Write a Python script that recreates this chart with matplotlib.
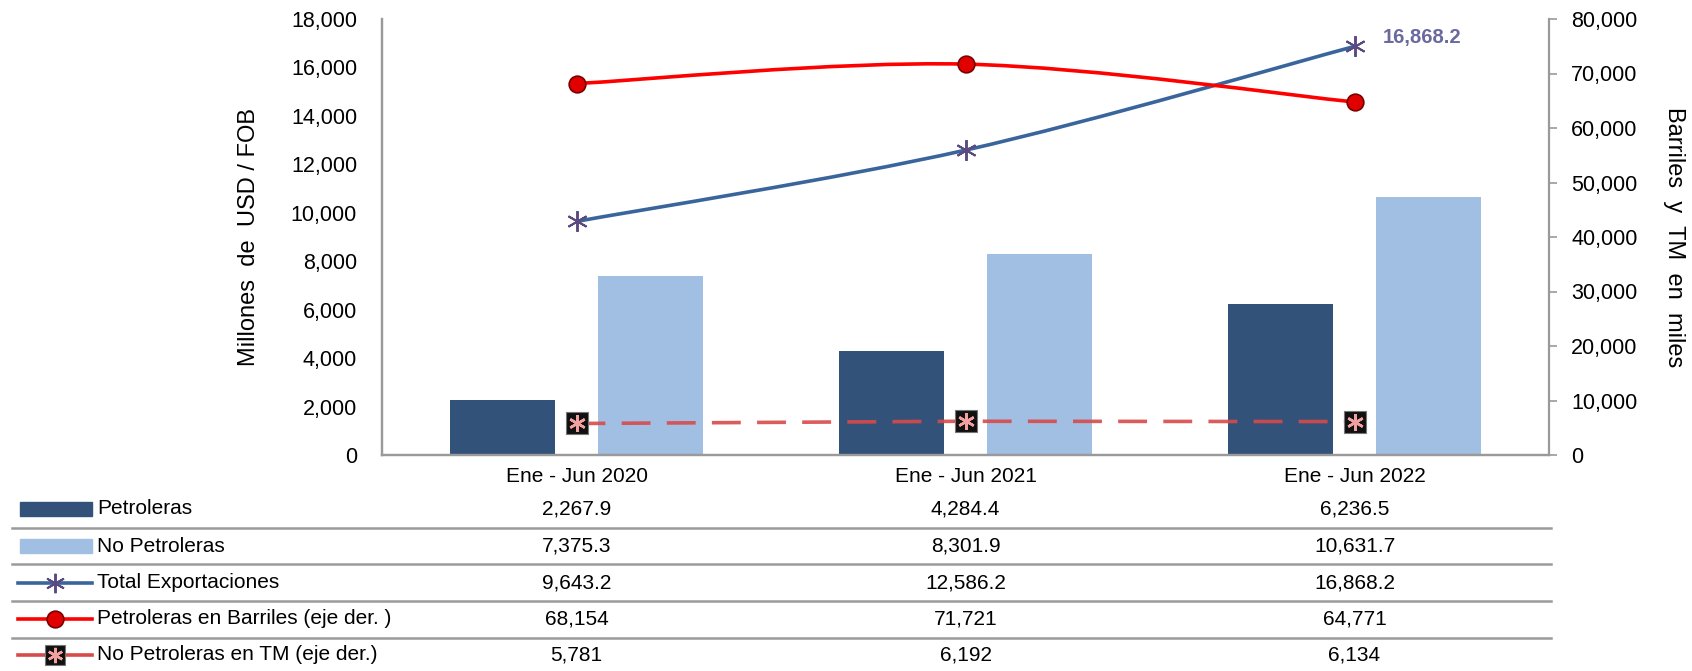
import matplotlib
matplotlib.use("Agg")
import matplotlib.pyplot as plt
import numpy as np
from matplotlib.path import Path
from matplotlib.patches import PathPatch, Rectangle
from matplotlib.lines import Line2D
from matplotlib import transforms

plt.rcParams['font.family'] = ['Liberation Sans Narrow', 'Liberation Sans', 'DejaVu Sans']

# data
categories = ["Ene - Jun 2020", "Ene - Jun 2021", "Ene - Jun 2022"]
petroleras = [2267.9, 4284.4, 6236.5]
no_petroleras = [7375.3, 8301.9, 10631.7]
total_export = [9643.2, 12586.2, 16868.2]
petro_barriles = [68154, 71721, 64771]
no_petro_tm = [5781, 6192, 6134]

row_labels = ["Petroleras", "No Petroleras", "Total Exportaciones",
              "Petroleras en Barriles (eje der. )", "No Petroleras en TM (eje der.)"]
row_values = [
    ["{:,.1f}".format(v) for v in petroleras],
    ["{:,.1f}".format(v) for v in no_petroleras],
    ["{:,.1f}".format(v) for v in total_export],
    ["{:,.0f}".format(v) for v in petro_barriles],
    ["{:,.0f}".format(v) for v in no_petro_tm],
]

c_dark = "#32527a"
c_light = "#a1bfe3"
c_blue = "#3a659c"
c_star = "#5b4a80"
c_red = "#ff0000"
c_tm = "#d84a4a"
c_grid = "#9a9a9a"
FS = 15

W, H = 1692, 671
fig = plt.figure(figsize=(W / 100, H / 100), dpi=100)

ax = fig.add_axes([382 / W, 1 - 455 / H, (1549 - 382) / W, (455 - 19) / H])
ax2 = ax.twinx()


def smooth_path(xs, ys):
    # catmull-rom style smoothing like a spreadsheet "smoothed line"
    pts = np.column_stack([xs, ys]).astype(float)
    n = len(pts)
    verts = [pts[0]]
    codes = [Path.MOVETO]
    for i in range(n - 1):
        p0 = pts[i - 1] if i > 0 else pts[i]
        p1 = pts[i]
        p2 = pts[i + 1]
        p3 = pts[i + 2] if i + 2 < n else pts[i + 1]
        verts += [p1 + (p2 - p0) / 6, p2 - (p3 - p1) / 6, p2]
        codes += [Path.CURVE4] * 3
    return Path(verts, codes)


x = np.arange(len(categories))
bw = 0.27
ax.bar(x - 0.19, petroleras, bw, color=c_dark, zorder=2)
ax.bar(x + 0.19, no_petroleras, bw, color=c_light, zorder=2)

ax.add_patch(PathPatch(smooth_path(x, total_export), fill=False, ec=c_blue, lw=2.6, zorder=4))
ax.plot(x, total_export, ls="none", marker=(6, 2, 0), ms=15, mew=1.4, color=c_star, zorder=5)
ax.annotate("{:,.1f}".format(total_export[-1]), (x[-1], total_export[-1]),
            xytext=(28, 9), textcoords="offset pixels", fontsize=14.5, fontweight="bold",
            color="#6a6a9e", ha="left", va="center")

ax2.add_patch(PathPatch(smooth_path(x, petro_barriles), fill=False, ec=c_red, lw=2.6, zorder=4))
ax2.plot(x, petro_barriles, ls="none", marker="o", ms=12, mfc="#e00000", mec="#7a0000", mew=1.2, zorder=5)

ax2.plot(x, no_petro_tm, color=c_tm, lw=2.6, dashes=(8, 4.5), alpha=0.9, zorder=3)
ax2.plot(x, no_petro_tm, ls="none", marker="s", ms=16, mfc="#111111", mec="#777777", mew=0.8, zorder=5)
ax2.plot(x, no_petro_tm, ls="none", marker=(6, 2, 0), ms=12, mew=1.8, color="#f2a0a0", zorder=6)

ax.set_xlim(-0.5, 2.5)
ax.set_ylim(0, 18000)
ax2.set_ylim(0, 80000)
ax.set_yticks(np.arange(0, 18001, 2000))
ax2.set_yticks(np.arange(0, 80001, 10000))
ax.set_xticks(x)
ax.set_xticklabels(categories, fontsize=FS)
ax.yaxis.set_major_formatter(matplotlib.ticker.FuncFormatter(lambda v, p: "{:,.0f}".format(v)))
ax2.yaxis.set_major_formatter(matplotlib.ticker.FuncFormatter(lambda v, p: "{:,.0f}".format(v)))
ax.tick_params(axis="y", length=0, pad=18, labelsize=FS + 0.5)
ax.tick_params(axis="x", length=0, pad=9)
ax2.tick_params(axis="y", length=6, width=1.2, color=c_grid, pad=10, labelsize=FS + 0.5)

for a in (ax, ax2):
    a.spines["top"].set_visible(False)
    for s in ("left", "right", "bottom"):
        a.spines[s].set_color(c_grid)
        a.spines[s].set_linewidth(1.6)
ax.spines["right"].set_visible(False)

ax.set_ylabel("Millones  de  USD / FOB", fontsize=17, labelpad=22)
ax2.set_ylabel("Barriles  y  TM  en  miles", fontsize=17, rotation=270, labelpad=34)

# data table below the chart
ov = fig.add_axes([0, 0, 1, 1], zorder=-1)
ov.set_xlim(0, W)
ov.set_ylim(H, 0)
ov.axis("off")
tr = transforms.blended_transform_factory(ax.transData, ov.transData)

row_y = [509, 546, 583, 619, 655]
sep_y = [528, 564, 601, 638]
for yy in sep_y:
    ov.add_line(Line2D([12, 1551], [yy, yy], color=c_grid, lw=1.8))

for i, (lab, vals) in enumerate(zip(row_labels, row_values)):
    yy = row_y[i]
    ov.text(97, yy, lab, fontsize=FS, ha="left", va="center")
    for j, v in enumerate(vals):
        ov.text(x[j], yy, v, fontsize=FS, ha="center", va="center", transform=tr)

ov.add_patch(Rectangle((20, row_y[0] - 7), 72, 14, color=c_dark))
ov.add_patch(Rectangle((20, row_y[1] - 7), 72, 14, color=c_light))
ov.add_line(Line2D([18, 92], [row_y[2]] * 2, color=c_blue, lw=2.6))
ov.plot([55], [row_y[2]], ls="none", marker=(6, 2, 0), ms=14, mew=1.4, color=c_star)
ov.add_line(Line2D([18, 92], [row_y[3]] * 2, color=c_red, lw=2.6))
ov.plot([55], [row_y[3]], ls="none", marker="o", ms=12, mfc="#e00000", mec="#7a0000", mew=1.2)
ov.add_line(Line2D([18, 92], [row_y[4]] * 2, color=c_tm, lw=2.6))
ov.plot([55], [row_y[4]], ls="none", marker="s", ms=15, mfc="#111111", mec="#777777", mew=0.8)
ov.plot([55], [row_y[4]], ls="none", marker=(6, 2, 0), ms=11, mew=1.8, color="#f2a0a0")

fig.savefig("out.png", dpi=100)
